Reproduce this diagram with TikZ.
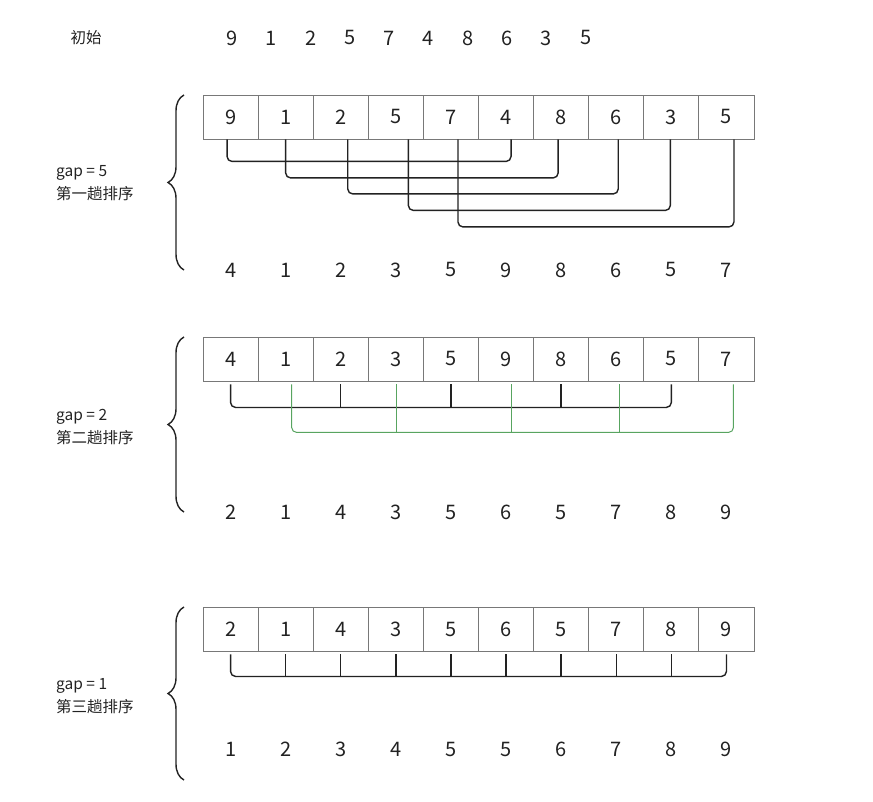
\documentclass[tikz,border=0pt]{standalone}
\usepackage{fontspec}
\setmainfont{Noto Sans CJK SC}
\usepackage{tikz}
\usetikzlibrary{positioning, calc, decorations.pathreplacing}
\definecolor{cellgray}{RGB}{120,120,120}
\definecolor{linkgreen}{RGB}{88,164,96}
\definecolor{numblack}{RGB}{34,34,34}
\tikzset{
  cell/.style={draw=cellgray, line width=0.9pt, minimum width=55.1pt,
               minimum height=44pt, inner sep=0pt,
               font=\fontsize{20}{24}\selectfont, text=numblack},
  num/.style={inner sep=0pt, font=\fontsize{20}{24}\selectfont, text=numblack},
  passlabel/.style={anchor=west, align=left, inner sep=0pt,
                    font=\fontsize{15.5}{23}\selectfont, text=numblack},
  link/.style={draw=numblack, line width=1.4pt, rounded corners=5pt},
  linkg/.style={draw=linkgreen, line width=1pt, rounded corners=5pt},
  passbrace/.style={draw=numblack, line width=1.4pt, decorate,
                    decoration={brace, amplitude=16pt}}
}

\begin{document}
\begin{tikzpicture}[x=1pt, y=-1pt]
    \useasboundingbox (0,0) rectangle (873,802);

    % initial sequence
    \node[num, font=\fontsize{15.5}{20}\selectfont] (init) at (86,38) {初始};
    \foreach \v [count=\i from 0] in {9,1,2,5,7,4,8,6,3,5}
      \node[num] (s\i) at (232+39.3*\i, 38) {\v};

    % gap = 5
    \foreach \v [count=\i from 0] in {9,1,2,5,7,4,8,6,3,5}
      \node[cell] (a\i) at (230.55+55.1*\i, 117) {\v};
    \foreach \v [count=\i from 0] in {4,1,2,3,5,9,8,6,5,7}
      \node[num, on grid, below=153pt of a\i] (p\i) {\v};
    \node[passlabel] (g1) at (56,183) {gap = 5\\第一趟排序};
    \draw[passbrace] (184,270) -- (184,95);
    \foreach \l/\r/\dl/\dr/\h in {0/5/-3.5/5/22, 1/6/0/-3/38.5, 2/7/7/2/54.5,
                                  3/8/12.5/-1/71, 4/9/7/7.5/87.5}
      \draw[link] ([xshift=\dl pt]a\l.south) -- ++(0,\h) -| ([xshift=\dr pt]a\r.south);

    % gap = 2
    \foreach \v [count=\i from 0] in {4,1,2,3,5,9,8,6,5,7}
      \node[cell] (b\i) at (230.55+55.1*\i, 359) {\v};
    \foreach \v [count=\i from 0] in {2,1,4,3,5,6,5,7,8,9}
      \node[num, on grid, below=153pt of b\i] (q\i) {\v};
    \node[passlabel] (g2) at (56,427) {gap = 2\\第二趟排序};
    \draw[passbrace] (184,512) -- (184,337);
    \draw[link] ([yshift=-3pt]b0.south) -- ++(0,23) -| ([yshift=-3pt]b8.south);
    \foreach \i in {2,4,6}
      \draw[link] ([yshift=-3pt]b\i.south) -- ++(0,23);
    \draw[linkg] ([xshift=6pt, yshift=-3pt]b1.south) -- ++(0,48)
      -| ([xshift=7pt, yshift=-3pt]b9.south);
    \foreach \i/\d in {3/1, 5/5, 7/3}
      \draw[linkg] ([xshift=\d pt, yshift=-3pt]b\i.south) -- ++(0,48);

    % gap = 1
    \foreach \v [count=\i from 0] in {2,1,4,3,5,6,5,7,8,9}
      \node[cell] (c\i) at (230.55+55.1*\i, 629) {\v};
    \foreach \v [count=\i from 0] in {1,2,3,4,5,5,6,7,8,9}
      \node[num, on grid, below=120pt of c\i] (r\i) {\v};
    \node[passlabel] (g3) at (56,696) {gap = 1\\第三趟排序};
    \draw[passbrace] (184,780) -- (184,607);
    \draw[link] ([yshift=-3pt]c0.south) -- ++(0,22) -| ([yshift=-3pt]c9.south);
    \foreach \i in {1,...,8}
      \draw[link] ([yshift=-3pt]c\i.south) -- ++(0,22);
\end{tikzpicture}
\end{document}
